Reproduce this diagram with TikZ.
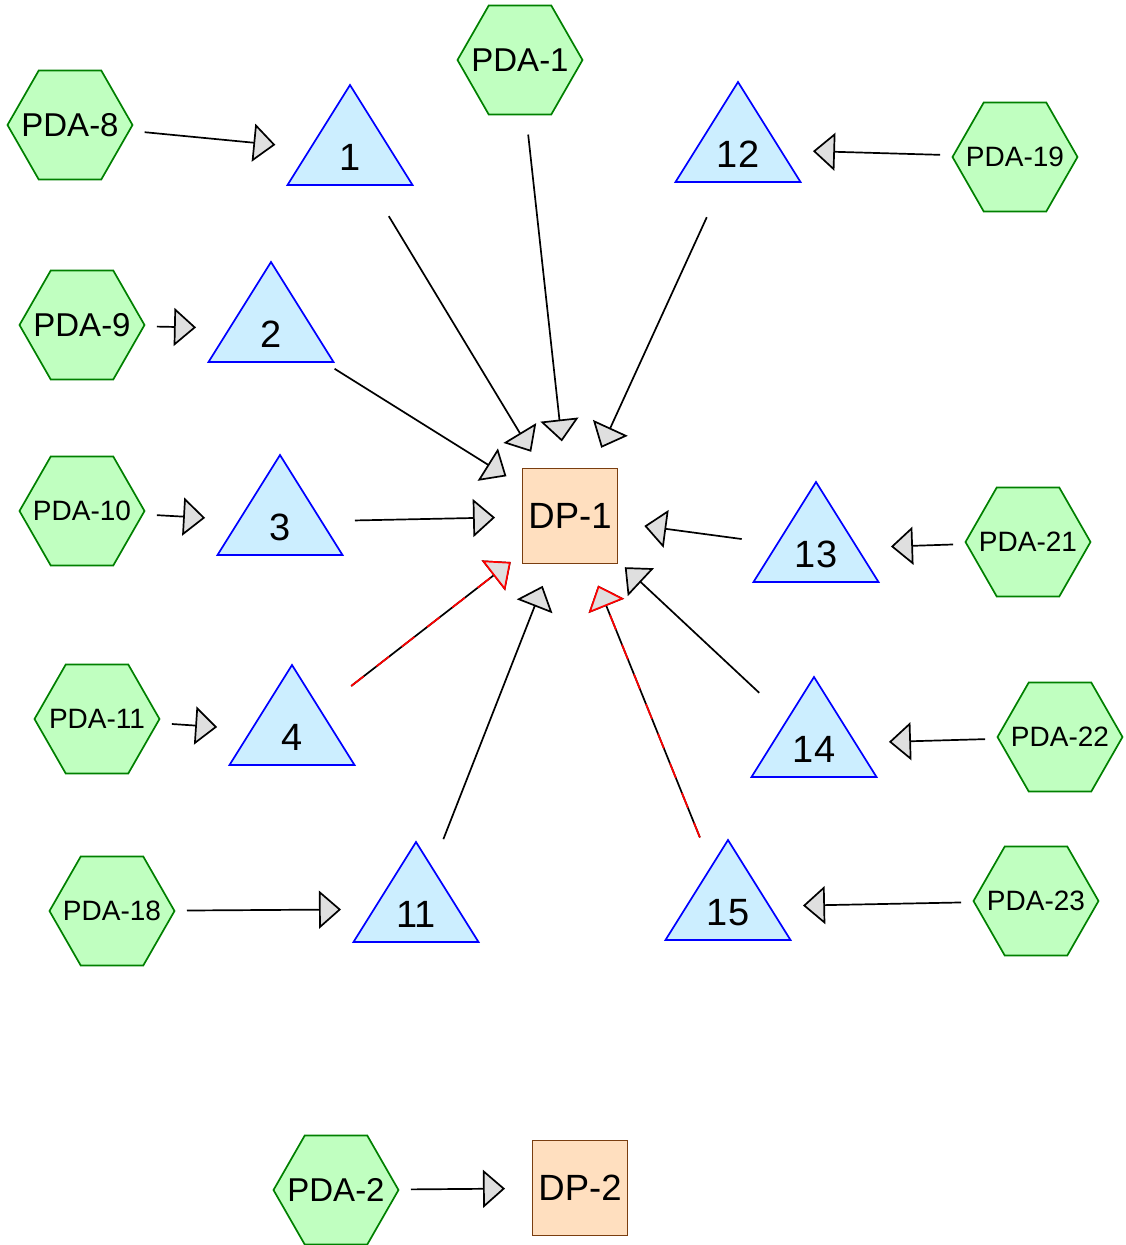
\documentclass[tikz,border=0pt]{standalone}
\usepackage{fontspec}
\setmainfont{Liberation Sans}
\usetikzlibrary{arrows.meta,backgrounds}

\definecolor{pdafill}{HTML}{C0FFC0}
\definecolor{pdaline}{HTML}{008000}
\definecolor{trifill}{HTML}{CCEEFF}
\definecolor{dpfill}{HTML}{FFDFBF}
\definecolor{dpline}{HTML}{7A3E10}

\begin{document}
\begin{tikzpicture}[
    x=1pt, y=-1pt,
    line width=1.7pt,
    pda/.style={inner sep=0pt, font=\fontsize{33}{36}\selectfont},
    pdas/.style={pda, font=\fontsize{28}{30}\selectfont},
    hexa/.style={draw=pdaline, fill=pdafill, line width=1.7pt, line join=miter},
    dp/.style={rectangle, draw=dpline, fill=dpfill, line width=1.8pt, minimum size=95pt, inner sep=0pt, font=\fontsize{36.5}{40}\selectfont},
    num/.style={inner sep=0pt, text height=37pt, text depth=0pt, font=\fontsize{38}{40}\selectfont},
    tri/.style={draw=blue, fill=trifill, line width=1.7pt, line join=miter},
    msg/.style={-{Triangle[length=22pt, width=38pt, fill=gray!25]}, shorten <=75pt, shorten >=75pt},
    hot/.style={msg, draw=red, dash pattern=on 16pt off 16pt},
  ]
    \useasboundingbox (0,0) rectangle (1125,1245);

    % data points
    \node[dp] (dp1) at (570,516) {DP-1};
    \node[dp] (dp2) at (580,1188) {DP-2};

    % sources
    \node[pda] (p8) at (70,125) {PDA-8};
    \node[pda] (p1) at (520,60) {PDA-1};
    \node[pdas] (p19) at (1015,157) {PDA-19};
    \node[pda] (p9) at (82,325) {PDA-9};
    \node[pdas] (p10) at (82,511) {PDA-10};
    \node[pdas] (p21) at (1028,542) {PDA-21};
    \node[pdas] (p11) at (97,719) {PDA-11};
    \node[pdas] (p22) at (1060,737) {PDA-22};
    \node[pdas] (p18) at (112,911) {PDA-18};
    \node[pdas] (p23) at (1036,901) {PDA-23};
    \node[pda] (p2) at (336,1190) {PDA-2};

    % relays (label sits on the centroid)
    \node[num] (t1) at (350,152) {1};
    \node[num] (t2) at (271,329) {2};
    \node[num] (t3) at (280,522) {3};
    \node[num] (t4) at (292,732) {4};
    \node[num] (t11) at (416,909) {11};
    \node[num] (t12) at (738,149) {12};
    \node[num] (t13) at (816,549) {13};
    \node[num] (t14) at (814,744) {14};
    \node[num] (t15) at (728,907) {15};

    \begin{scope}[on background layer]
      \draw[hexa] (p8.center) ++(-62.5,0) -- ++(31.25,-54.5) -- ++(62.5,0) -- ++(31.25,54.5) -- ++(-31.25,54.5) -- ++(-62.5,0) -- cycle;
      \draw[hexa] (p1.center) ++(-62.5,0) -- ++(31.25,-54.5) -- ++(62.5,0) -- ++(31.25,54.5) -- ++(-31.25,54.5) -- ++(-62.5,0) -- cycle;
      \draw[hexa] (p19.center) ++(-62.5,0) -- ++(31.25,-54.5) -- ++(62.5,0) -- ++(31.25,54.5) -- ++(-31.25,54.5) -- ++(-62.5,0) -- cycle;
      \draw[hexa] (p9.center) ++(-62.5,0) -- ++(31.25,-54.5) -- ++(62.5,0) -- ++(31.25,54.5) -- ++(-31.25,54.5) -- ++(-62.5,0) -- cycle;
      \draw[hexa] (p10.center) ++(-62.5,0) -- ++(31.25,-54.5) -- ++(62.5,0) -- ++(31.25,54.5) -- ++(-31.25,54.5) -- ++(-62.5,0) -- cycle;
      \draw[hexa] (p21.center) ++(-62.5,0) -- ++(31.25,-54.5) -- ++(62.5,0) -- ++(31.25,54.5) -- ++(-31.25,54.5) -- ++(-62.5,0) -- cycle;
      \draw[hexa] (p11.center) ++(-62.5,0) -- ++(31.25,-54.5) -- ++(62.5,0) -- ++(31.25,54.5) -- ++(-31.25,54.5) -- ++(-62.5,0) -- cycle;
      \draw[hexa] (p22.center) ++(-62.5,0) -- ++(31.25,-54.5) -- ++(62.5,0) -- ++(31.25,54.5) -- ++(-31.25,54.5) -- ++(-62.5,0) -- cycle;
      \draw[hexa] (p18.center) ++(-62.5,0) -- ++(31.25,-54.5) -- ++(62.5,0) -- ++(31.25,54.5) -- ++(-31.25,54.5) -- ++(-62.5,0) -- cycle;
      \draw[hexa] (p23.center) ++(-62.5,0) -- ++(31.25,-54.5) -- ++(62.5,0) -- ++(31.25,54.5) -- ++(-31.25,54.5) -- ++(-62.5,0) -- cycle;
      \draw[hexa] (p2.center) ++(-62.5,0) -- ++(31.25,-54.5) -- ++(62.5,0) -- ++(31.25,54.5) -- ++(-31.25,54.5) -- ++(-62.5,0) -- cycle;

      \draw[tri] (t1.center) ++(0,-67) -- ++(62.5,100) -- ++(-125,0) -- cycle;
      \draw[tri] (t2.center) ++(0,-67) -- ++(62.5,100) -- ++(-125,0) -- cycle;
      \draw[tri] (t3.center) ++(0,-67) -- ++(62.5,100) -- ++(-125,0) -- cycle;
      \draw[tri] (t4.center) ++(0,-67) -- ++(62.5,100) -- ++(-125,0) -- cycle;
      \draw[tri] (t11.center) ++(0,-67) -- ++(62.5,100) -- ++(-125,0) -- cycle;
      \draw[tri] (t12.center) ++(0,-67) -- ++(62.5,100) -- ++(-125,0) -- cycle;
      \draw[tri] (t13.center) ++(0,-67) -- ++(62.5,100) -- ++(-125,0) -- cycle;
      \draw[tri] (t14.center) ++(0,-67) -- ++(62.5,100) -- ++(-125,0) -- cycle;
      \draw[tri] (t15.center) ++(0,-67) -- ++(62.5,100) -- ++(-125,0) -- cycle;
    \end{scope}

    % sources to relays
    \draw[msg] (p8.center) -- (t1.center);
    \draw[msg] (p9.center) -- (t2.center);
    \draw[msg] (p10.center) -- (t3.center);
    \draw[msg] (p11.center) -- (t4.center);
    \draw[msg] (p18.center) -- (t11.center);
    \draw[msg] (p19.center) -- (t12.center);
    \draw[msg] (p21.center) -- (t13.center);
    \draw[msg] (p22.center) -- (t14.center);
    \draw[msg] (p23.center) -- (t15.center);
    \draw[msg] (p2.center) -- (dp2.center);

    % into DP-1
    \draw[msg] (p1.center) -- (dp1.center);
    \draw[msg] (t1.center) -- (dp1.center);
    \draw[msg] (t2.center) -- (dp1.center);
    \draw[msg] (t3.center) -- (dp1.center);
    \draw[msg] (t11.center) -- (dp1.center);
    \draw[msg] (t12.center) -- (dp1.center);
    \draw[msg] (t13.center) -- (dp1.center);
    \draw[msg] (t14.center) -- (dp1.center);
    \draw[msg] (t4.center) -- (dp1.center);
    \draw[hot] (t4.center) -- (dp1.center);
    \draw[msg] (t15.center) -- (dp1.center);
    \draw[hot] (t15.center) -- (dp1.center);
  \end{tikzpicture}
\end{document}
